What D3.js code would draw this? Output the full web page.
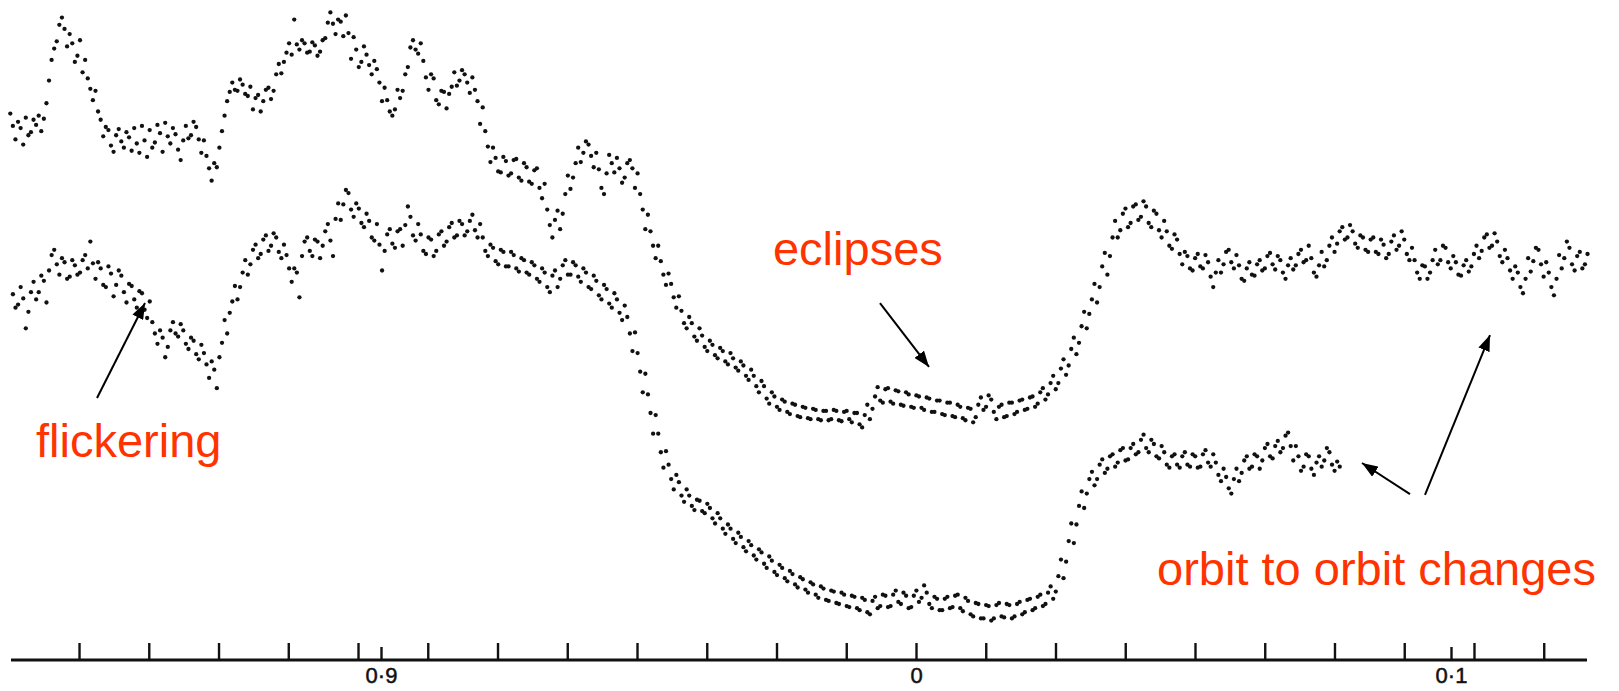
<!DOCTYPE html>
<html><head><meta charset="utf-8">
<script src="https://cdn.jsdelivr.net/npm/d3@7"></script>
<style>html,body{margin:0;padding:0;background:#fff;} svg{display:block}</style>
</head><body>
<svg id="chart" width="1619" height="691"></svg>
<script>
// ---- data ----
// orbital phase of first reading and spacing between successive readings
const upperStart = -0.16929;
const lowerStart = -0.16880;
const sampleStep = 0.0004825;
// relative depth (arbitrary units, larger = fainter / lower on the page)
const upperDepth = [
110,122,135,118,124,140,114,131,128,116,
121,112,127,115,100,78,58,47,40,24,
17,28,45,33,42,60,54,39,70,58,
76,86,97,88,108,116,132,123,126,141,
147,131,125,137,143,128,133,146,124,139,
148,122,136,152,126,143,138,121,129,147,
119,132,139,124,130,145,155,136,122,134,
131,118,123,135,148,136,151,163,175,158,
162,143,127,112,98,89,80,87,88,77,
82,91,93,84,106,95,92,108,98,87,
85,96,88,72,62,71,60,51,42,53,
19,43,48,39,42,51,50,41,44,54,
50,39,37,22,12,23,33,19,21,35,
15,32,57,36,48,65,60,45,53,63,
72,59,67,80,98,85,97,108,112,106,
87,95,88,72,65,46,39,48,52,42,
59,75,87,72,76,97,101,88,89,105,
91,84,70,83,78,68,72,80,90,75,
87,98,120,104,127,142,157,143,153,166,
167,152,156,170,168,155,154,172,175,158,
162,176,178,165,163,182,192,178,203,218,
230,213,204,222,207,188,170,183,172,158,
143,157,148,137,140,151,162,148,164,182,
188,168,150,158,167,153,163,177,172,158,
155,163,182,168,188,203,222,208,224,238,
250,238,253,266,276,265,275,288,298,287,
301,313,318,307,313,326,330,318,325,336,
340,330,334,344,347,337,340,350,353,342,
347,356,359,350,354,364,368,358,364,374,
380,369,374,386,391,380,384,394,397,387,
389,399,401,391,392,403,404,394,395,405,
406,396,397,406,407,398,398,407,406,397,
398,407,408,399,398,406,409,400,400,411,
414,402,392,406,396,384,375,388,390,377,
376,389,391,378,379,392,393,380,382,394,
395,383,384,395,397,385,386,399,399,388,
388,401,402,390,390,403,404,392,394,405,
407,395,396,409,404,392,385,397,394,383,
387,399,406,394,392,404,403,390,390,401,
399,388,387,397,396,385,384,394,391,380,
376,387,382,371,364,377,371,357,348,363,
354,338,327,343,332,316,302,318,304,290,
275,293,278,258,245,266,248,230,214,230,
223,207,202,220,216,200,198,213,210,195,
200,216,220,204,207,223,230,214,224,238,
241,227,232,246,256,244,248,260,262,250,
246,258,260,247,254,268,278,264,252,264,
256,244,242,254,260,247,257,270,272,260,
254,266,267,256,252,262,260,248,245,256,
261,248,252,264,270,257,250,261,257,246,
242,254,252,238,250,264,268,257,244,258,
252,238,230,244,236,224,220,232,230,218,
224,236,240,228,230,242,244,232,230,244,
246,232,237,250,246,234,228,242,238,224,
232,246,252,240,252,264,270,257,258,270,
264,252,242,256,252,238,240,254,260,248,
254,266,267,257,252,263,258,246,238,250,
243,230,227,240,238,226,234,248,254,242,
250,262,270,258,264,278,284,270,250,263,
253,240,242,256,268,254,264,278,286,270,
247,260,250,234,240,256,262,248,244,260,
256,246
];
const lowerDepth = [
285,298,295,278,289,318,302,283,273,290,
283,267,272,293,262,247,242,256,266,250,
254,270,268,252,257,266,264,252,247,260,
234,255,270,254,260,276,278,258,265,287,
276,262,267,283,293,275,277,290,298,282,
284,300,308,292,312,323,333,320,327,346,
336,320,312,323,326,314,320,333,338,327,
330,343,348,334,342,353,366,350,358,376,
346,332,310,323,303,292,277,290,278,264,
252,266,256,242,237,250,246,232,228,243,
238,226,230,244,250,237,247,260,273,260,
264,288,248,234,230,243,248,232,234,250,
238,224,217,233,248,212,197,213,198,184,
187,203,210,197,202,216,220,207,214,230,
233,217,237,262,243,227,222,236,240,224,
222,238,218,200,210,228,233,217,227,243,
246,230,232,248,243,227,224,238,234,220,
216,230,228,214,217,228,224,214,208,223,
230,217,230,243,248,237,240,253,256,242,
244,258,258,244,247,260,263,250,252,264,
266,254,257,270,273,260,264,278,283,267,
262,278,270,257,252,266,266,254,257,268,
273,260,264,278,280,267,272,286,290,276,
280,294,298,284,290,303,310,296,307,323,
340,322,342,360,380,362,382,400,420,402,
420,438,453,437,450,464,474,460,467,480,
486,474,480,490,494,484,485,495,497,488,
492,502,507,497,502,512,517,508,512,522,
526,516,520,530,534,524,528,538,542,532,
535,546,550,539,543,554,557,547,550,560,
563,553,556,566,569,559,561,571,574,564,
566,576,579,568,570,581,582,572,573,584,
585,574,576,587,588,577,578,589,591,579,
581,593,595,582,578,589,587,576,577,588,
587,576,572,583,585,574,577,589,588,577,
572,583,579,567,574,585,589,578,580,591,
591,580,578,589,588,577,576,589,592,579,
582,595,597,584,585,599,599,586,587,601,
599,586,584,597,598,585,586,599,597,585,
583,595,593,581,580,591,589,578,576,587,
585,574,568,580,573,558,542,560,544,524,
507,526,508,490,476,492,478,464,457,470,
464,450,445,458,454,442,440,452,448,436,
434,446,445,434,430,440,438,426,421,434,
438,426,430,442,444,432,438,450,453,442,
440,450,453,442,438,450,452,440,442,453,
452,440,436,448,452,440,448,460,466,454,
462,473,478,464,454,466,458,446,442,454,
452,440,442,454,446,434,430,442,444,432,
427,438,434,422,419,432,446,432,442,456,
452,440,442,454,460,448,442,452,446,434,
438,450,456,447,452
];
// axis ticks
const labeledTicks = [-0.1, 0, 0.1];
const labeledTickText = ["0·9", "0", "0·1"];
const shortTicks = [-0.1, 0.1];
const minorTickStep = 0.013037;
const minorTickIndex = [-12,-11,-10,-9,-8,-7,-6,-5,-4,-3,-2,-1,0,1,2,3,4,5,6,7,8,9];
const axisExtent = [-0.16916, 0.12542];
// annotations (phase, depth)
const labels = [
  {text: "eclipses", phase: -0.02673, depth: 256.7},
  {text: "flickering", phase: -0.16449, depth: 442.6},
  {text: "orbit to orbit changes", phase: 0.04505, depth: 566.6}
];
const arrows = [
  {from: [-0.15308, 385.5], to: [-0.14411, 293.5]},
  {from: [-0.00673, 293.5], to: [0.00243, 355.4]},
  {from: [0.09234, 478.5], to: [0.08336, 448.4]},
  {from: [0.09514, 479.4], to: [0.10729, 324.5]}
];

// ---- drawing ----
const svg = d3.select("#chart");
const x = d3.scaleLinear().domain([-0.1, 0.1]).range([381, 1451]);
const y = d3.scaleLinear().domain([0, 680]).range([0, 702.1]);

const toPts = (arr, start) => arr.map((v, i) => ({p: start + i * sampleStep, d: v}));
const series = [toPts(upperDepth, upperStart), toPts(lowerDepth, lowerStart)];

const gDots = svg.append("g");
series.forEach(s => {
  gDots.selectAll(null).data(s).join("circle")
    .attr("cx", d => x(d.p)).attr("cy", d => y(d.d))
    .attr("r", 2.15).attr("fill", "#111");
});

// axis
const axisY = 660;
svg.append("line")
  .attr("x1", x(axisExtent[0])).attr("x2", x(axisExtent[1]))
  .attr("y1", axisY).attr("y2", axisY)
  .attr("stroke", "#111").attr("stroke-width", 3);

const gMinor = svg.append("g").attr("transform", `translate(0,${axisY})`)
  .call(d3.axisTop(x).tickValues(minorTickIndex.map(k => k * minorTickStep))
    .tickSize(17).tickSizeOuter(0).tickFormat(""));
gMinor.select(".domain").remove();
gMinor.selectAll("line").attr("stroke", "#111").attr("stroke-width", 2.4);

const gShort = svg.append("g").attr("transform", `translate(0,${axisY})`)
  .call(d3.axisTop(x).tickValues(shortTicks).tickSize(13).tickSizeOuter(0).tickFormat(""));
gShort.select(".domain").remove();
gShort.selectAll("line").attr("stroke", "#111").attr("stroke-width", 2.4);

const gLab = svg.append("g").attr("transform", `translate(0,${axisY})`)
  .call(d3.axisBottom(x).tickValues(labeledTicks).tickSize(0).tickPadding(7)
    .tickFormat((d, i) => labeledTickText[i]));
gLab.select(".domain").remove();
gLab.selectAll("text").attr("font-family", "Liberation Sans, Arial, sans-serif")
  .attr("font-size", 22).attr("fill", "#111")
  .attr("stroke", "#111").attr("stroke-width", 0.5);

// annotations
svg.append("defs").append("marker")
  .attr("id", "ah").attr("markerUnits", "userSpaceOnUse")
  .attr("viewBox", "0 0 16 12").attr("refX", 16).attr("refY", 6)
  .attr("markerWidth", 16).attr("markerHeight", 12).attr("orient", "auto")
  .append("path").attr("d", "M0,0 L16,6 L0,12 Z").attr("fill", "#000");

svg.append("g").selectAll("line").data(arrows).join("line")
  .attr("x1", d => x(d.from[0])).attr("y1", d => y(d.from[1]))
  .attr("x2", d => x(d.to[0])).attr("y2", d => y(d.to[1]))
  .attr("stroke", "#000").attr("stroke-width", 2)
  .attr("marker-end", "url(#ah)");

svg.append("g").selectAll("text").data(labels).join("text")
  .attr("x", d => x(d.phase)).attr("y", d => y(d.depth))
  .attr("font-family", "Liberation Sans, Arial, sans-serif")
  .attr("font-size", 47).attr("fill", "#ff3300")
  .text(d => d.text);
</script>
</body></html>
